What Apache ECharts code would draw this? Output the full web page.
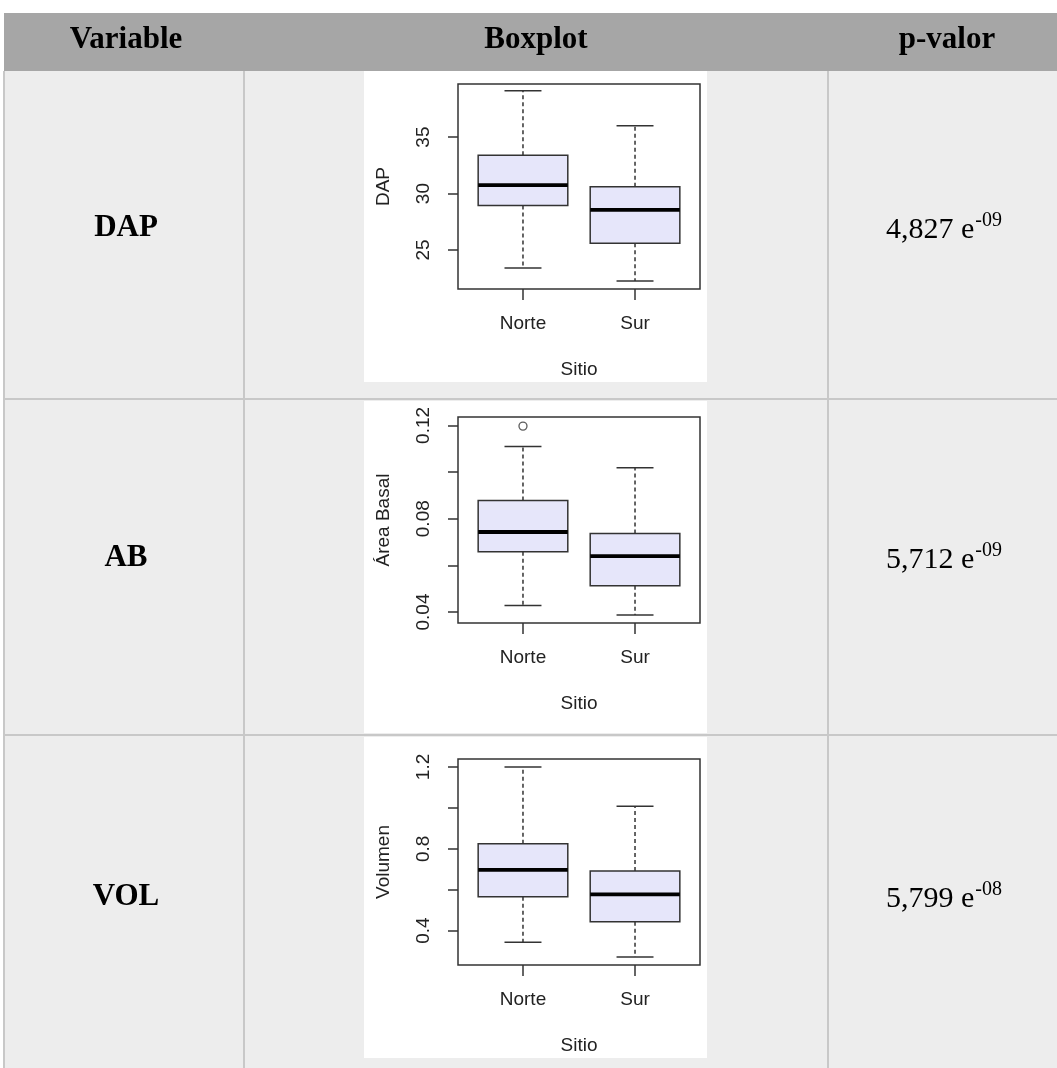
<!DOCTYPE html>
<html>
<head>
<meta charset="utf-8">
<script src="https://cdn.jsdelivr.net/npm/echarts@6/dist/echarts.min.js"></script>
<style>
html, body { margin: 0; padding: 0; background: #fff; }
#main { width: 1057px; height: 1068px; }
</style>
</head>
<body>
<div id="main"></div>
<script>
var sitios = ['Norte', 'Sur'];
var variables = ['DAP', 'AB', 'VOL'];
var pBase = ['4,827 e', '5,712 e', '5,799 e'];
var pExp = ['-09', '-09', '-08'];
var nombresY = ['DAP', 'Área Basal', 'Volumen'];

// [sitio, bigote inf, q1, mediana, q3, bigote sup]
var cajaDAP = [[1, 23.4, 28.95, 30.75, 33.4, 39.1], [2, 22.25, 25.6, 28.55, 30.6, 36.0]];
var cajaAB = [[1, 0.0428, 0.0658, 0.0743, 0.0878, 0.111], [2, 0.0387, 0.0513, 0.064, 0.0737, 0.1018]];
var cajaVOL = [[1, 0.343, 0.566, 0.697, 0.8245, 1.2], [2, 0.271, 0.444, 0.577, 0.691, 1.008]];
var atipicosAB = [[1, 0.1197]];

var ticksDAP = [25, 30, 35];
var ticksAB = [0.04, 0.06, 0.08, 0.10, 0.12];
var etiqAB = [0.04, 0.08, 0.12];
var ticksVOL = [0.4, 0.6, 0.8, 1.0, 1.2];
var etiqVOL = [0.4, 0.8, 1.2];

var myChart = echarts.init(document.getElementById('main'));

var fuente = 'Liberation Sans';
var serif = '"Liberation Serif", "Times New Roman", serif';

// dibuja una caja estilo R (bigotes punteados)
function dibujaCaja(params, api) {
	var x = api.value(0);
	var lo = api.coord([x, api.value(1)]);
	var q1 = api.coord([x, api.value(2)]);
	var md = api.coord([x, api.value(3)]);
	var q3 = api.coord([x, api.value(4)]);
	var hi = api.coord([x, api.value(5)]);
	var cx = lo[0];
	var hw = api.size([0.4, 0])[0];
	var cw = api.size([0.165, 0])[0];
	var borde = { stroke: '#333', lineWidth: 1.5 };
	var punteado = { stroke: '#333', lineWidth: 1.5, lineDash: [4, 3] };
	return {
		type: 'group',
		children: [
			{ type: 'line', shape: { x1: cx, y1: q3[1], x2: cx, y2: hi[1] }, style: punteado },
			{ type: 'line', shape: { x1: cx, y1: q1[1], x2: cx, y2: lo[1] }, style: punteado },
			{ type: 'line', shape: { x1: cx - cw, y1: hi[1], x2: cx + cw, y2: hi[1] }, style: borde },
			{ type: 'line', shape: { x1: cx - cw, y1: lo[1], x2: cx + cw, y2: lo[1] }, style: borde },
			{ type: 'rect', shape: { x: cx - hw, y: q3[1], width: hw * 2, height: q1[1] - q3[1] },
				style: { fill: '#e6e6fa', stroke: '#333', lineWidth: 1.5 } },
			{ type: 'line', shape: { x1: cx - hw, y1: md[1], x2: cx + hw, y2: md[1] },
				style: { stroke: '#000', lineWidth: 3.8 } }
		]
	};
}

var grids = [
	{ left: 458, top: 84, width: 242, height: 205 },
	{ left: 458, top: 417, width: 242, height: 206 },
	{ left: 458, top: 759, width: 242, height: 206 }
].map(function (g) {
	g.show = true;
	g.borderColor = '#333';
	g.borderWidth = 1.5;
	g.backgroundColor = 'transparent';
	g.z = 1;
	return g;
});

function ejeX(i) {
	return {
		type: 'value', gridIndex: i, min: 0.42, max: 2.58,
		name: 'Sitio', nameLocation: 'middle', nameGap: 71,
		nameTextStyle: { fontFamily: fuente, fontSize: 19, color: '#222' },
		axisLine: { show: false },
		splitLine: { show: false },
		axisTick: { show: true, length: 11, customValues: [1, 2], lineStyle: { color: '#333', width: 1.5 } },
		axisLabel: {
			customValues: [1, 2], margin: 25,
			fontFamily: fuente, fontSize: 19, color: '#222',
			formatter: function (v) { return sitios[Math.round(v) - 1]; }
		}
	};
}

function ejeY(i, min, max, ticks, etiq) {
	return {
		type: 'value', gridIndex: i, min: min, max: max,
		name: nombresY[i], nameLocation: 'middle', nameGap: 65, nameRotate: 90,
		nameTextStyle: { fontFamily: fuente, fontSize: 19, color: '#222' },
		axisLine: { show: false },
		splitLine: { show: false },
		axisTick: { show: true, length: 10, customValues: ticks, lineStyle: { color: '#333', width: 1.5 } },
		axisLabel: {
			customValues: etiq, rotate: 90, margin: 25,
			fontFamily: fuente, fontSize: 19, color: '#222',
			formatter: function (v) { return String(+v.toFixed(2)); }
		}
	};
}

// celdas de la tabla
var filas = [[71, 328], [399, 336], [735, 345]];
var blancos = [[71, 311], [401, 332], [737, 321]];
var centrosY = [228, 558, 897];

var graficos = [];
graficos.push({ type: 'rect', z: -10, shape: { x: 4, y: 13, width: 1053, height: 58 }, style: { fill: '#a6a6a6' } });
filas.forEach(function (f) {
	graficos.push({ type: 'rect', z: -10, shape: { x: 4, y: f[0], width: 1053, height: f[1] }, style: { fill: '#ededed' } });
});
blancos.forEach(function (b) {
	graficos.push({ type: 'rect', z: -9, shape: { x: 364, y: b[0], width: 343, height: b[1] }, style: { fill: '#fff' } });
});
[4, 244, 828].forEach(function (x) {
	graficos.push({ type: 'line', z: -8, shape: { x1: x, y1: 71, x2: x, y2: 1068 }, style: { stroke: '#c8c8c8', lineWidth: 2 } });
});
[399, 735].forEach(function (y) {
	graficos.push({ type: 'line', z: -8, shape: { x1: 4, y1: y, x2: 1057, y2: y }, style: { stroke: '#c8c8c8', lineWidth: 2 } });
});
// encabezado
[['Variable', 126], ['Boxplot', 536], ['p-valor', 947]].forEach(function (h) {
	graficos.push({ type: 'text', z: 5, x: h[1], y: 40,
		style: { text: h[0], font: 'bold 31px ' + serif, fill: '#000', align: 'center', verticalAlign: 'middle' } });
});
variables.forEach(function (v, i) {
	graficos.push({ type: 'text', z: 5, x: 126, y: centrosY[i],
		style: { text: v, font: 'bold 31px ' + serif, fill: '#000', align: 'center', verticalAlign: 'middle' } });
	graficos.push({ type: 'text', z: 5, x: 886, y: centrosY[i],
		style: {
			text: '{b|' + pBase[i] + '}{e|' + pExp[i] + '}', align: 'left', verticalAlign: 'middle',
			rich: {
				b: { fontFamily: serif, fontSize: 30, color: '#000', verticalAlign: 'bottom', lineHeight: 34 },
				e: { fontFamily: serif, fontSize: 20, color: '#000', verticalAlign: 'top', lineHeight: 34, padding: [0, 0, 12, 1] }
			}
		} });
});

var option = {
	animation: false,
	backgroundColor: '#fff',
	graphic: { elements: graficos },
	grid: grids,
	xAxis: [ejeX(0), ejeX(1), ejeX(2)],
	yAxis: [
		ejeY(0, 21.55, 39.7, ticksDAP, ticksDAP),
		ejeY(1, 0.0353, 0.1236, ticksAB, etiqAB),
		ejeY(2, 0.232, 1.239, ticksVOL, etiqVOL)
	],
	series: [
		{ type: 'custom', xAxisIndex: 0, yAxisIndex: 0, renderItem: dibujaCaja, encode: { x: 0, y: [1, 2, 3, 4, 5] }, data: cajaDAP, z: 3 },
		{ type: 'custom', xAxisIndex: 1, yAxisIndex: 1, renderItem: dibujaCaja, encode: { x: 0, y: [1, 2, 3, 4, 5] }, data: cajaAB, z: 3 },
		{ type: 'custom', xAxisIndex: 2, yAxisIndex: 2, renderItem: dibujaCaja, encode: { x: 0, y: [1, 2, 3, 4, 5] }, data: cajaVOL, z: 3 },
		{ type: 'scatter', xAxisIndex: 1, yAxisIndex: 1, data: atipicosAB, symbol: 'circle', symbolSize: 8,
			itemStyle: { color: '#fff', borderColor: '#333', borderWidth: 1.3 }, z: 4 }
	]
};
myChart.setOption(option);
</script>
</body>
</html>
